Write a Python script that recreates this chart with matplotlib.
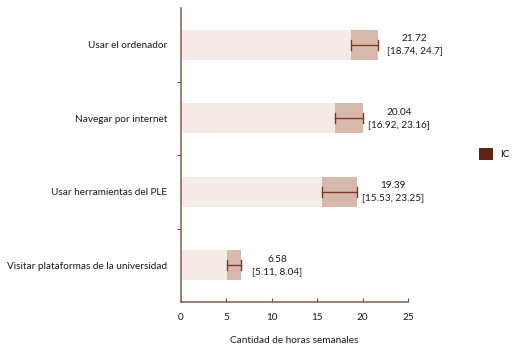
import numpy as np
import matplotlib.pyplot as plt
from matplotlib.patches import Patch

plt.rcParams['font.family'] = ['Lato', 'DejaVu Sans']

# data
categories = ['Usar el ordenador', 'Navegar por internet',
              'Usar herramientas del PLE', 'Visitar plataformas de la universidad']
means = [21.72, 20.04, 19.39, 6.58]
ci_low = [18.74, 16.92, 15.53, 5.11]
ci_high = [24.7, 23.16, 23.25, 8.04]

light = '#f4ebe7'
dark = '#d6b9ab'
err_col = '#7b3b22'
axis_col = '#8c6b5c'
fs = 7.2

fig = plt.figure(figsize=(5.3, 3.59), dpi=100)
ax = fig.add_axes([181 / 530, 1 - 302 / 359, 227 / 530, 294 / 359])

y = np.arange(len(categories))[::-1]
h = 0.41
ax.barh(y, means, height=h, color=light, zorder=1)
ax.barh(y, np.array(means) - np.array(ci_low), left=ci_low, height=h, color=dark, zorder=2)
# error line from lower bound to mean
for yi, lo, m in zip(y, ci_low, means):
    ax.plot([lo, m], [yi, yi], color=err_col, lw=1.0, zorder=3)
    ax.plot([lo, lo], [yi - 0.07, yi + 0.07], color=err_col, lw=1.0, zorder=3)
    ax.plot([m, m], [yi - 0.07, yi + 0.07], color=err_col, lw=1.0, zorder=3)

for yi, m, lo, hi in zip(y, means, ci_low, ci_high):
    ax.text(m + 4.0, yi, f'{m}\n[{lo}, {hi}]', ha='center', va='center',
            fontsize=fs, color='#1a1a1a', linespacing=1.4)

ax.set_xlim(0, 25)
ax.set_ylim(-0.5, len(categories) - 0.5)
ax.set_xticks([0, 5, 10, 15, 20, 25])
ax.set_yticks(y)
ax.set_yticklabels(categories)
ax.set_yticks([0.5, 1.5, 2.5], minor=True)
ax.tick_params(axis='y', which='major', length=0, pad=10, labelsize=fs, labelcolor='#1a1a1a')
ax.tick_params(axis='y', which='minor', length=3, color='#555555', width=0.8)
ax.tick_params(axis='x', direction='in', length=3, color='#555555', labelsize=fs,
               labelcolor='#1a1a1a', pad=8)
ax.set_xlabel('Cantidad de horas semanales', fontsize=fs, color='#1a1a1a', labelpad=10)

for s in ['top', 'right']:
    ax.spines[s].set_visible(False)
for s in ['left', 'bottom']:
    ax.spines[s].set_color(axis_col)
    ax.spines[s].set_linewidth(1.2)

fig.legend(handles=[Patch(facecolor='#5e2412', label='IC')], loc='center left',
           bbox_to_anchor=(470 / 530, 1 - 154 / 359), frameon=False, fontsize=fs,
           handlelength=1.35, handleheight=1.35, handletextpad=0.8)

fig.savefig('out.png', dpi=100)
